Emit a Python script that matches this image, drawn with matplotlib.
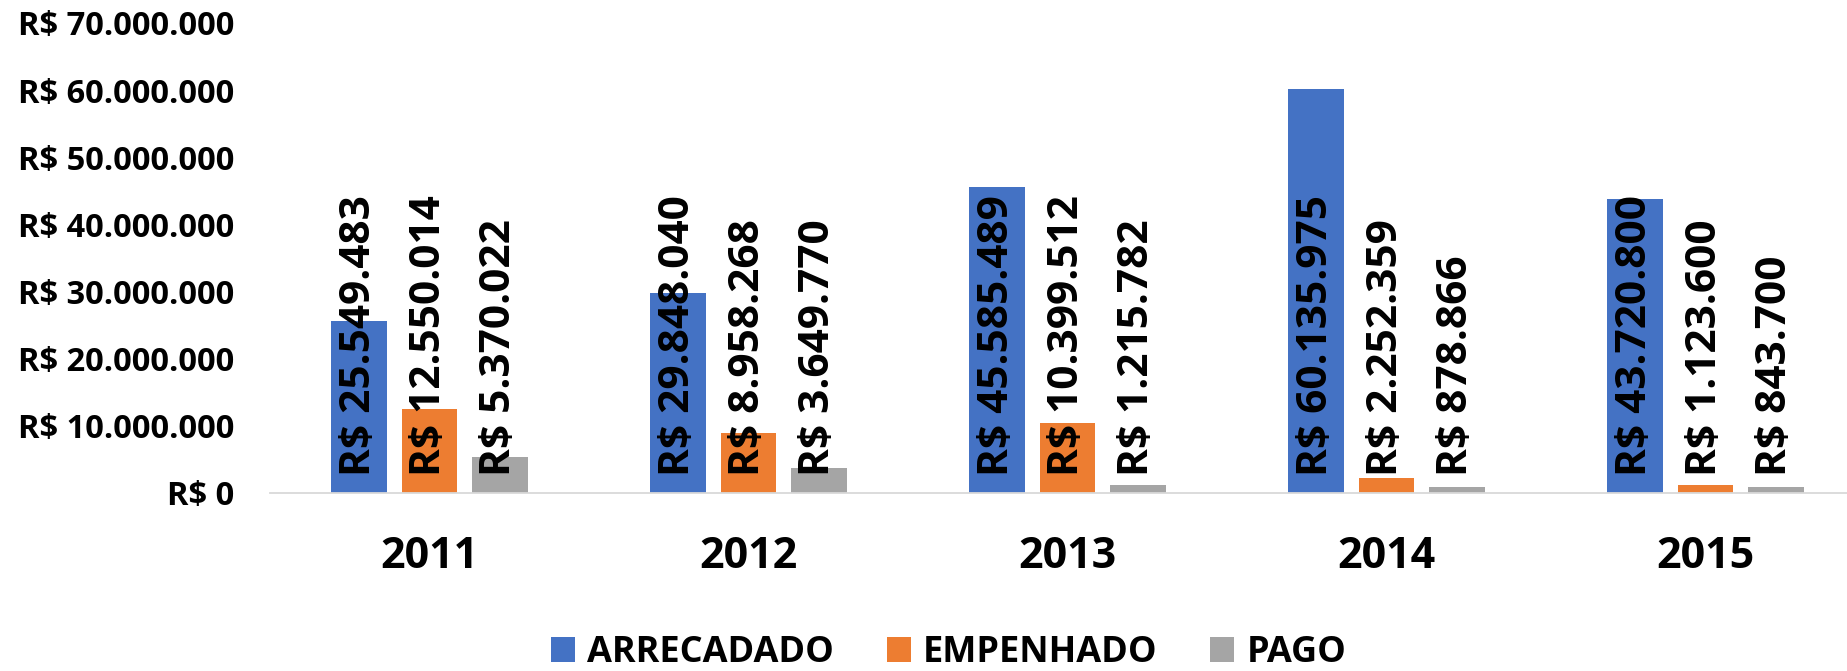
import matplotlib
matplotlib.use("Agg")
import matplotlib.pyplot as plt
from matplotlib.ticker import FuncFormatter
import numpy as np

years = ["2011", "2012", "2013", "2014", "2015"]
series_names = ["ARRECADADO", "EMPENHADO", "PAGO"]
arrecadado = [25549483, 29848040, 45585489, 60135975, 43720800]
empenhado = [12550014, 8958268, 10399512, 2252359, 1123600]
pago = [5370022, 3649770, 1215782, 878866, 843700]
colors = ["#4472C4", "#ED7D31", "#A5A5A5"]


def brl(v):
    return "R$ " + f"{int(v):,}".replace(",", ".")


FONT = ["Open Sans", "DejaVu Sans"]

fig = plt.figure(figsize=(18.47, 6.71), dpi=100)
ax = fig.add_axes([270 / 1847, (671 - 493) / 671, 1595 / 1847, 470 / 671])

x = np.arange(len(years))
width = 0.174
offsets = [-0.221, 0.0, 0.221]
data = [arrecadado, empenhado, pago]

for vals, off, col, name in zip(data, offsets, colors, series_names):
    ax.bar(x + off, vals, width=width, color=col, label=name, zorder=2)
    for xi, v in zip(x + off, vals):
        ax.annotate(brl(v), xy=(xi, 0), xytext=(0, 12), textcoords="offset points",
                    ha="center", va="bottom", rotation=90,
                    fontsize=30.5, fontweight="bold", family=FONT, color="black", zorder=3)

ax.set_xlim(-0.5, 4.5)
ax.set_ylim(0, 70_000_000)
ax.set_yticks(np.arange(0, 70_000_001, 10_000_000))
ax.yaxis.set_major_formatter(FuncFormatter(lambda v, p: brl(v)))
ax.set_xticks(x)
ax.set_xticklabels(years)

for lbl in ax.get_yticklabels():
    lbl.set_family(FONT)
    lbl.set_fontweight("bold")
    lbl.set_fontsize(23.5)
for lbl in ax.get_xticklabels():
    lbl.set_family(FONT)
    lbl.set_fontweight("bold")
    lbl.set_fontsize(31)

ax.tick_params(axis="y", length=0, pad=26)
ax.tick_params(axis="x", length=0, pad=30)

for s in ["top", "right", "left"]:
    ax.spines[s].set_visible(False)
ax.spines["bottom"].set_color("#D9D9D9")
ax.spines["bottom"].set_linewidth(1.3)
ax.set_facecolor("white")

handles, labels = ax.get_legend_handles_labels()
fig.legend(handles, labels, loc="center", bbox_to_anchor=(948.5 / 1847, (671 - 653) / 671),
           ncol=3, frameon=False, prop={"family": FONT, "weight": "bold", "size": 26},
           handlelength=0.665, handleheight=0.665, handletextpad=0.33,
           columnspacing=1.47, borderaxespad=0, borderpad=0)

fig.savefig("out.png", dpi=100, facecolor="white")
